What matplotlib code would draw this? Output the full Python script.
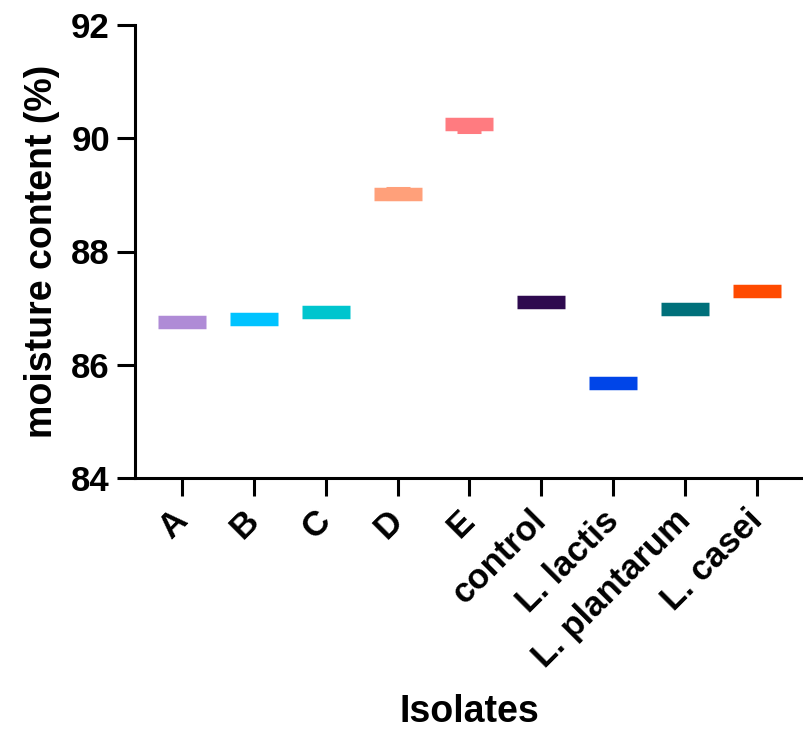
import matplotlib
matplotlib.use("Agg")
import matplotlib.pyplot as plt

categories = ["A", "B", "C", "D", "E", "control", "L. lactis", "L. plantarum", "L. casei"]
means = [86.76, 86.80, 86.94, 89.01, 90.25, 87.10, 85.68, 86.99, 87.30]
err_low = [0.05, 0.05, 0.05, 0.08, 0.14, 0.05, 0.05, 0.05, 0.05]
err_high = [0.05, 0.05, 0.05, 0.11, 0.08, 0.05, 0.05, 0.05, 0.05]
colors = ["#AF8BD6", "#00C3FF", "#00C5CE", "#FFA07A", "#FF7B80",
          "#2E0A4F", "#0045E8", "#00707A", "#FF4A00"]
yticks = [84, 86, 88, 90, 92]

plt.rcParams['font.family'] = ['Liberation Sans', 'DejaVu Sans']
plt.rcParams['font.weight'] = 'bold'

fig = plt.figure(figsize=(8.04, 7.33), dpi=100)
ax = fig.add_axes([135/804, 1 - 478/733, 1 - 135/804, (478 - 25)/733])

x = list(range(len(categories)))
for i, (m, lo, hi, c) in enumerate(zip(means, err_low, err_high, colors)):
    ax.errorbar([i], [m], yerr=[[lo], [hi]], fmt='none', ecolor=c,
                elinewidth=2.2, capsize=8.6, capthick=2.2, zorder=2)
    ax.plot([i], [m], marker='_', markersize=34.6, markeredgewidth=9.7,
            color=c, linestyle='none', zorder=3)

ax.set_xlim(-0.65, 8.65)
ax.set_ylim(84, 92)
ax.set_yticks(yticks)
ax.set_yticklabels([str(t) for t in yticks], fontsize=25, fontweight='bold')
ax.set_xticks(x)
ax.set_xticklabels(categories, fontsize=25, fontweight='bold', rotation=45,
                   ha='right', va='center', rotation_mode='anchor')

for s in ['top', 'right']:
    ax.spines[s].set_visible(False)
for s in ['left', 'bottom']:
    ax.spines[s].set_linewidth(2.2)
ax.tick_params(axis='both', length=13, width=2.2, color='black')
ax.tick_params(axis='y', pad=5)
ax.tick_params(axis='x', pad=14)

ax.set_ylabel("moisture content (%)", fontsize=27, fontweight='bold', labelpad=8)
ax.set_xlabel("Isolates", fontsize=27, fontweight='bold', labelpad=14)

fig.savefig("out.png", dpi=100)
